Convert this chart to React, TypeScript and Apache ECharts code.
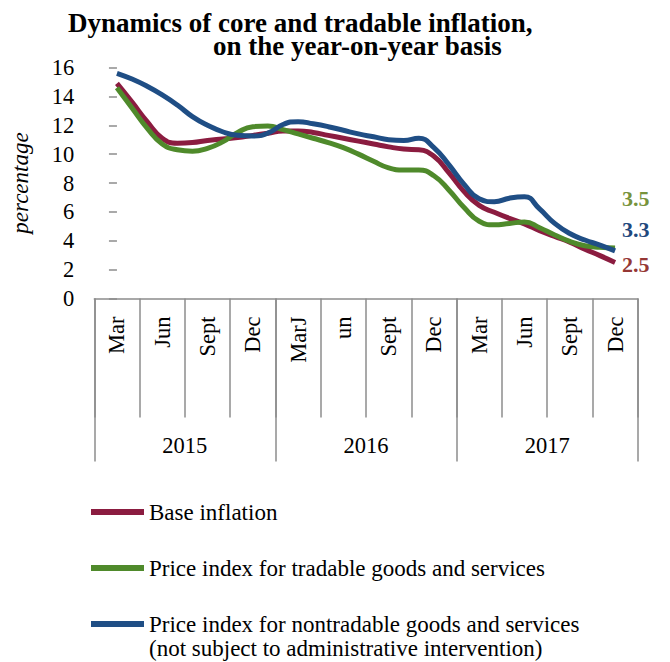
import React, { useEffect, useRef } from "react";
import * as echarts from "echarts";

const FONT = "'Liberation Serif', 'Times New Roman', Times, serif";

// Quarter labels (as printed in the source, including its typo "MarJ" / "un")
const quarterLabels = ["Mar", "Jun", "Sept", "Dec", "MarJ", "un", "Sept", "Dec", "Mar", "Jun", "Sept", "Dec"];
const yearLabels = ["2015", "2016", "2017"];

// Monthly values, Mar 2015 .. Dec 2017
const baseInflation = [
  14.9, 13.6, 12.25, 11.1, 10.75, 10.8, 10.95, 11.05, 11.15, 11.3, 11.45, 11.6,
  11.6, 11.5, 11.3, 11.1, 10.9, 10.7, 10.5, 10.35, 10.3, 9.85, 8.7, 7.4,
  6.45, 5.97, 5.55, 5.17, 4.7, 4.3, 3.9, 3.42, 2.97, 2.5,
];
const tradable = [
  14.6, 13.2, 11.8, 10.7, 10.3, 10.2, 10.4, 10.85, 11.5, 11.9, 11.95, 11.7,
  11.4, 11.1, 10.8, 10.45, 10.0, 9.5, 9.05, 8.9, 8.9, 8.5, 7.5, 6.3,
  5.35, 5.1, 5.2, 5.3, 4.9, 4.4, 3.95, 3.65, 3.55, 3.5,
];
const nontradable = [
  15.6, 15.2, 14.7, 14.1, 13.4, 12.6, 12.0, 11.55, 11.3, 11.25, 11.45, 12.05,
  12.25, 12.1, 11.9, 11.65, 11.4, 11.2, 11.0, 10.95, 11.1, 10.45, 9.25, 7.9,
  6.9, 6.7, 6.95, 7.05, 6.2, 5.2, 4.5, 4.05, 3.7, 3.3,
];

const nameBase = "Base inflation";
const nameTradable = "Price index for tradable goods and services";
const nameNontradable = "Price index for nontradable goods and services (not subject to administrative intervention)";

const GRAY = "#8c8c8c";

export default function App() {
  const ref = useRef<HTMLDivElement>(null);
  useEffect(() => {
    if (!ref.current) return;
    const chart = echarts.init(ref.current, null, { renderer: "svg" });
    const toPairs = (arr: number[]) => arr.map((v, i) => [i, v]);
    const endLabel = (color: string, dy: number) => ({
      show: true,
      formatter: (p: any) => Number(p.value[1]).toFixed(1),
      color,
      fontFamily: FONT,
      fontSize: 22,
      fontWeight: "bold",
      distance: 5,
      offset: [2, dy],
    });
    const titleStyle = { fontFamily: FONT, fontSize: 27, fontWeight: "bold", color: "#000", lineHeight: 23 };
    const option: any = {
      animation: false,
      textStyle: { fontFamily: FONT },
      title: [
        { text: "Dynamics of core and tradable inflation,", left: 68, top: 11.5, padding: 0, textStyle: titleStyle },
        { text: "on the year-on-year basis", left: 213, top: 34.5, padding: 0, textStyle: titleStyle },
      ],
      grid: { left: 94.3, right: 32.3, top: 67.5, bottom: 363.5, containLabel: false },
      xAxis: [
        {
          type: "category",
          data: quarterLabels,
          position: "bottom",
          boundaryGap: true,
          axisLine: { show: true, lineStyle: { color: GRAY, width: 1.5 } },
          axisTick: { show: true, interval: 0, length: 119, lineStyle: { color: GRAY, width: 1.5 } },
          axisLabel: { interval: 0, rotate: 90, margin: 18, fontSize: 22.5, color: "#000", fontFamily: FONT },
          splitLine: { show: false },
        },
        {
          type: "category",
          data: yearLabels,
          position: "bottom",
          boundaryGap: true,
          axisLine: { show: false },
          axisTick: { show: true, interval: 0, length: 163, lineStyle: { color: GRAY, width: 1.5 } },
          axisLabel: { interval: 0, margin: 135, fontSize: 22.5, color: "#000", fontFamily: FONT },
          splitLine: { show: false },
        },
        {
          type: "value",
          position: "bottom",
          min: -1.5,
          max: baseInflation.length + 0.5,
          show: false,
          splitLine: { show: false },
        },
      ],
      yAxis: {
        type: "value",
        min: 0,
        max: 16,
        interval: 2,
        axisLine: { show: false },
        axisTick: { show: true, length: 8, lineStyle: { color: GRAY, width: 1.5 } },
        axisLabel: { margin: 20, fontSize: 22.5, color: "#000", fontFamily: FONT },
        splitLine: { show: false },
        name: "percentage",
        nameLocation: "middle",
        nameGap: 62,
        nameTextStyle: { fontStyle: "italic", fontSize: 23, color: "#000", fontFamily: FONT },
      },
      legend: [
        {
          data: [nameBase, nameTradable],
          orient: "vertical",
          left: 91,
          top: 500,
          padding: 0,
          itemWidth: 53,
          itemHeight: 6,
          itemGap: 32,
          icon: "rect",
          selectedMode: false,
          textStyle: { fontFamily: FONT, fontSize: 23, color: "#000", lineHeight: 24 },
        },
        {
          data: [nameNontradable],
          orient: "vertical",
          left: 91,
          top: 588,
          padding: 0,
          itemWidth: 53,
          itemHeight: 6,
          icon: "rect",
          selectedMode: false,
          formatter: () =>
            "\nPrice index for nontradable goods and services\n(not subject to administrative intervention)",
          textStyle: { fontFamily: FONT, fontSize: 23, color: "#000", lineHeight: 24 },
        },
      ],
      series: [
        {
          name: nameBase,
          type: "line",
          xAxisIndex: 2,
          yAxisIndex: 0,
          data: toPairs(baseInflation),
          smooth: true,
          symbol: "none",
          color: "#8b1c40",
          lineStyle: { width: 5, color: "#8b1c40" },
          endLabel: endLabel("#953735", 2),
        },
        {
          name: nameTradable,
          type: "line",
          xAxisIndex: 2,
          yAxisIndex: 0,
          data: toPairs(tradable),
          smooth: true,
          symbol: "none",
          color: "#4f8a2b",
          lineStyle: { width: 5, color: "#4f8a2b" },
          endLabel: endLabel("#77933c", -49),
        },
        {
          name: nameNontradable,
          type: "line",
          xAxisIndex: 2,
          yAxisIndex: 0,
          data: toPairs(nontradable),
          smooth: true,
          symbol: "none",
          color: "#1f4e85",
          lineStyle: { width: 5, color: "#1f4e85" },
          endLabel: endLabel("#1f497d", -21),
        },
      ],
    };
    chart.setOption(option);
    return () => chart.dispose();
  }, []);
  return (
    <div
      ref={ref}
      style={{ position: "fixed", left: 0, top: 0, width: 670, height: 662, background: "#fff" }}
    />
  );
}
